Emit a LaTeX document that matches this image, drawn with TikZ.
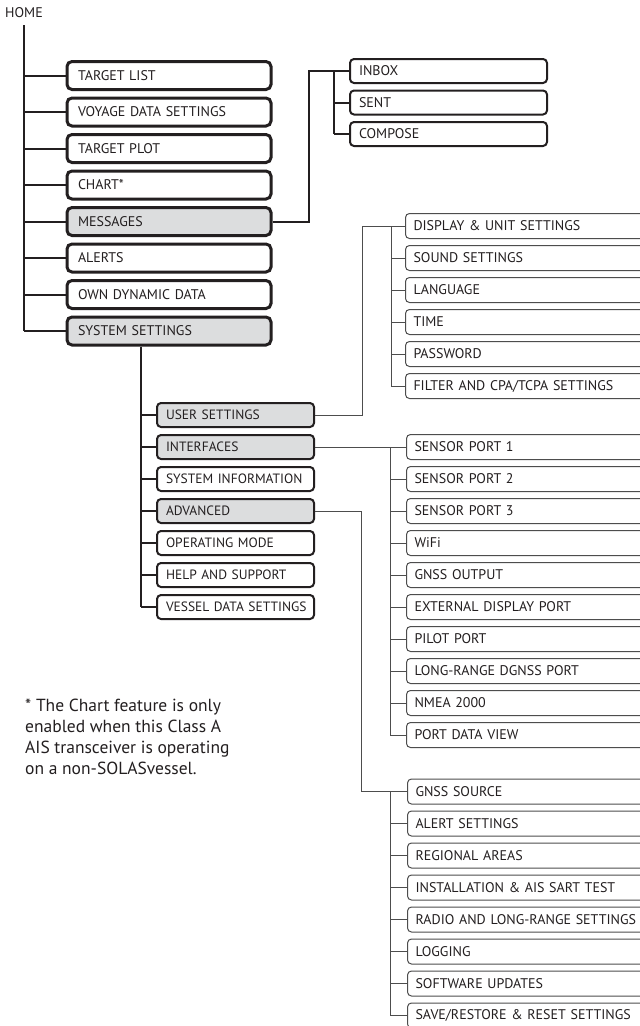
\documentclass[tikz,border=0pt]{standalone}
\usepackage{fontspec}
\setmainfont{PT Sans}
\usetikzlibrary{calc}
\definecolor{ink}{HTML}{231F20}
\definecolor{shade}{HTML}{DCDDDE}
\definecolor{thin}{HTML}{4D4D4D}
\tikzset{
  lbl/.style={font=\fontsize{14}{14}\selectfont, text=ink},
  oneline/.style={execute at begin node={\hbox\bgroup}, execute at end node={\egroup}},
  mainbox/.style={lbl, oneline, draw=ink, line width=3pt, rounded corners=5pt, anchor=west,
    minimum height=28pt, text width=182pt, inner xsep=11pt, inner ysep=0pt,
    align=left},
  subbox/.style={lbl, oneline, font=\fontsize{13.5}{14}\selectfont, draw=ink, line width=2pt,
    rounded corners=4pt, anchor=west,
    minimum height=24pt, text width=139pt, inner xsep=9pt, inner ysep=0pt,
    align=left},
  msgbox/.style={lbl, oneline, draw=ink, line width=2pt, rounded corners=4pt, anchor=west,
    minimum height=24pt, text width=179pt, inner xsep=9pt, inner ysep=0pt,
    align=left},
  leafbox/.style={lbl, oneline, draw=thin, line width=1pt, rounded corners=4pt, anchor=west,
    minimum height=25pt, text width=239pt, inner xsep=8pt, inner ysep=0pt,
    align=left},
  grey/.style={fill=shade},
  trunk/.style={draw=ink, line width=2pt},
  twig/.style={draw=thin, line width=1pt},
}
\begin{document}
\begin{tikzpicture}[x=1pt,y=-1pt]
\clip (0,0) rectangle (640,1026);
\fill[white] (0,0) rectangle (640,1026);
% HOME
\node[lbl, anchor=base west, inner sep=0pt] (home) at (5,17) {HOME};
\coordinate (tk) at (24,25);
% main level
\node[mainbox] (tl) at (65.5,75.5) {TARGET LIST};
\node[mainbox] (vd) at (65.5,112) {VOYAGE DATA SETTINGS};
\node[mainbox] (tp) at (65.5,148.5) {TARGET PLOT};
\node[mainbox] (ch) at (65.5,185) {CHART*};
\node[mainbox,grey] (ms) at (65.5,221.5) {MESSAGES};
\node[mainbox] (al) at (65.5,258) {ALERTS};
\node[mainbox] (od) at (65.5,294.5) {OWN DYNAMIC DATA};
\node[mainbox,grey] (ss) at (65.5,331) {SYSTEM SETTINGS};
\draw[trunk] (tk) -- (tk |- ss.west);
\foreach \n in {tl,vd,tp,ch,ms,al,od,ss} \draw[trunk] (tk |- \n.west) -- (\n.west);
% messages
\node[msgbox] (ib) at (349,71) {INBOX};
\node[msgbox] (se) at (349,102.5) {SENT};
\node[msgbox] (co) at (349,134) {COMPOSE};
\coordinate (mj) at (308.5,0);
\coordinate (mb) at (334,0);
\draw[trunk] (ms.east) -- (ms.east -| mj) |- (ib.west);
\draw[trunk] (mb |- ib.west) -- (mb |- co.west);
\foreach \n in {se,co} \draw[trunk] (mb |- \n.west) -- (\n.west);
% system settings
\node[subbox,grey] (us) at (156,415) {USER SETTINGS};
\node[subbox,grey] (if) at (156,447) {INTERFACES};
\node[subbox] (si) at (156,479) {SYSTEM INFORMATION};
\node[subbox,grey] (ad) at (156,511) {ADVANCED};
\node[subbox] (om) at (156,543) {OPERATING MODE};
\node[subbox] (hs) at (156,575) {HELP AND SUPPORT};
\node[subbox] (vs) at (156,607) {VESSEL DATA SETTINGS};
\coordinate (st) at (141,0);
\draw[trunk] (st |- ss.south) -- (st |- vs.west);
\foreach \n in {us,if,si,ad,om,hs,vs} \draw[trunk] (st |- \n.west) -- (\n.west);
% user settings
\node[leafbox] (u1) at (405,226) {DISPLAY \& UNIT SETTINGS};
\node[leafbox] (u2) at (405,258) {SOUND SETTINGS};
\node[leafbox] (u3) at (405,290) {LANGUAGE};
\node[leafbox] (u4) at (405,322) {TIME};
\node[leafbox] (u5) at (405,354) {PASSWORD};
\node[leafbox] (u6) at (405,386) {FILTER AND CPA/TCPA SETTINGS};
\coordinate (uj) at (362,0);
\coordinate (ub) at (391,0);
\draw[twig] (us.east) -- (us.east -| uj) |- (u1.west);
\draw[twig] (ub |- u1.west) -- (ub |- u6.west);
\foreach \n in {u2,u3,u4,u5,u6} \draw[twig] (ub |- \n.west) -- (\n.west);
% interfaces
\node[leafbox] (i1) at (406,447) {SENSOR PORT 1};
\node[leafbox] (i2) at (406,479) {SENSOR PORT 2};
\node[leafbox] (i3) at (406,511) {SENSOR PORT 3};
\node[leafbox] (i4) at (406,543) {WiFi};
\node[leafbox] (i5) at (406,575) {GNSS OUTPUT};
\node[leafbox] (i6) at (406,607) {EXTERNAL DISPLAY PORT};
\node[leafbox] (i7) at (406,639) {PILOT PORT};
\node[leafbox] (i8) at (406,671) {LONG-RANGE DGNSS PORT};
\node[leafbox] (i9) at (406,703) {NMEA 2000};
\node[leafbox] (i10) at (406,735) {PORT DATA VIEW};
\coordinate (ib2) at (390,0);
\draw[twig] (if.east) -- (i1.west);
\draw[twig] (ib2 |- i1.west) -- (ib2 |- i10.west);
\foreach \n in {i2,i3,i4,i5,i6,i7,i8,i9,i10} \draw[twig] (ib2 |- \n.west) -- (\n.west);
% advanced
\node[leafbox] (a1) at (407,791.5) {GNSS SOURCE};
\node[leafbox] (a2) at (407,823.5) {ALERT SETTINGS};
\node[leafbox] (a3) at (407,855.5) {REGIONAL AREAS};
\node[leafbox] (a4) at (407,887.5) {INSTALLATION \& AIS SART TEST};
\node[leafbox] (a5) at (407,919.5) {RADIO AND LONG-RANGE SETTINGS};
\node[leafbox] (a6) at (407,951.5) {LOGGING};
\node[leafbox] (a7) at (407,983.5) {SOFTWARE UPDATES};
\node[leafbox] (a8) at (407,1015.5) {SAVE/RESTORE \& RESET SETTINGS};
\coordinate (aj) at (361,0);
\coordinate (ab) at (390,0);
\draw[twig] (ad.east) -- (ad.east -| aj) |- (a1.west);
\draw[twig] (ab |- a1.west) -- (ab |- a8.west);
\foreach \n in {a2,a3,a4,a5,a6,a7,a8} \draw[twig] (ab |- \n.west) -- (\n.west);
% footnote
\node[anchor=north west, inner sep=0pt, align=left, text=ink,
  font=\fontsize{17.5}{21}\selectfont] (fn) at (25,699)
  {* The Chart feature is only\\enabled when this Class A\\AIS transceiver is operating\\on a non-SOLASvessel.};
\end{tikzpicture}
\end{document}
